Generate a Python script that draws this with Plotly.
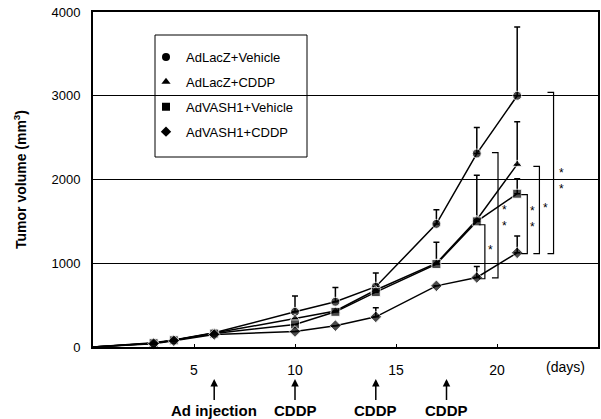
import plotly.graph_objects as go

days = [0, 3, 4, 6, 10, 12, 14, 17, 19, 21]

lacz_vehicle = [0, 50, 85, 170, 420, 540, 720, 1470, 2310, 3000]
lacz_vehicle_err = [0, 0, 0, 0, 190, 170, 165, 170, 310, 820]

lacz_cddp = [0, 45, 80, 165, 340, 430, 680, 1000, 1520, 2180]
lacz_cddp_err = [0, 0, 0, 0, 0, 0, 0, 250, 530, 510]

vash_vehicle = [0, 45, 80, 160, 270, 420, 655, 990, 1500, 1830]
vash_vehicle_err = [0, 0, 0, 0, 0, 0, 0, 0, 0, 180]

vash_cddp = [0, 40, 75, 150, 185, 255, 360, 730, 830, 1125]
vash_cddp_err = [0, 0, 0, 0, 0, 0, 110, 0, 130, 200]

series_names = ["AdLacZ+Vehicle", "AdLacZ+CDDP", "AdVASH1+Vehicle", "AdVASH1+CDDP"]
series_vals = [lacz_vehicle, lacz_cddp, vash_vehicle, vash_cddp]
series_errs = [lacz_vehicle_err, lacz_cddp_err, vash_vehicle_err, vash_cddp_err]
symbols = ["circle", "triangle-up", "square", "diamond"]

# significance brackets: (x, y_top, y_bottom, stars, star_x, star_y)
brackets = [
    (19.4, 1460, 815, "*", 19.7, 1160),
    (20.05, 2320, 826, "*<br>*", 20.35, 1545),
    (21.5, 1820, 1114, "*<br>*", 21.75, 1530),
    (22.1, 2156, 1114, "*", 22.4, 1665),
    (22.8, 3040, 1114, "*<br>*", 23.2, 1980),
]

# treatment arrows
events = [(6, "Ad injection"), (10, "CDDP"), (14, "CDDP"), (17.5, "CDDP")]

x_ticks = [5, 10, 15, 20]
y_ticks = [0, 1000, 2000, 3000, 4000]

FONT = "Arial, Liberation Sans, sans-serif"

fig = go.Figure()
for name, vals, errs, sym in zip(series_names, series_vals, series_errs, symbols):
    sizes = [0] + [9] * (len(vals) - 1)
    fig.add_trace(go.Scatter(
        x=days, y=vals, mode="lines+markers", name=name, showlegend=False,
        line=dict(color="black", width=1.5),
        marker=dict(symbol=sym, size=sizes, color="black"),
        error_y=dict(type="data", array=errs, arrayminus=[0] * len(errs),
                     symmetric=False, color="black", thickness=1.5, width=3),
        cliponaxis=False,
    ))
    fig.add_trace(go.Scatter(
        x=[None], y=[None], mode="markers", name=name, legendgroup=name,
        marker=dict(symbol=sym, size=8, color="black"),
    ))

shapes = []
tick = 0.3
for bx, ytop, ybot, stars, sx, sy in brackets:
    shapes.append(dict(type="path", xref="x", yref="y",
                       path=f"M {bx - tick} {ytop} L {bx} {ytop} L {bx} {ybot} L {bx - tick} {ybot}",
                       line=dict(color="black", width=1.2)))
    fig.add_annotation(x=sx, y=sy, xref="x", yref="y", text=stars, showarrow=False,
                       font=dict(family=FONT, size=12, color="black"))

# legend box
shapes.append(dict(type="rect", xref="paper", yref="paper",
                   x0=(155 - 93) / 505, x1=(307 - 93) / 505,
                   y0=(347 - 157) / 335, y1=(347 - 35) / 335,
                   line=dict(color="black", width=1), fillcolor="white", layer="below"))

for ex, label in events:
    fig.add_annotation(x=ex, y=-32 / 335, xref="x", yref="paper", text=f"<b>{label}</b>",
                       showarrow=True, ax=0, ay=31, arrowhead=2, arrowsize=1, arrowwidth=1.5,
                       arrowcolor="black", font=dict(family=FONT, size=15, color="black"))

fig.add_annotation(x=23.4, y=0, xref="x", yref="paper", yshift=-20, yanchor="middle",
                   text="(days)", showarrow=False,
                   font=dict(family=FONT, size=14, color="black"))

fig.update_layout(
    width=601, height=419,
    margin=dict(l=93, r=3, t=12, b=72, autoexpand=False),
    paper_bgcolor="white", plot_bgcolor="white",
    font=dict(family=FONT, size=13, color="black"),
    shapes=shapes,
    showlegend=True,
    legend=dict(x=(146 - 93) / 505, y=(347 - 42) / 335, xanchor="left", yanchor="top",
                bgcolor="rgba(0,0,0,0)", borderwidth=0, itemwidth=30,
                tracegroupgap=5, font=dict(family=FONT, size=13, color="black")),
    xaxis=dict(range=[0, 25], tickvals=x_ticks, ticks="inside", ticklen=3,
               tickcolor="black", showgrid=False, zeroline=False, automargin=False,
               showline=True, linecolor="black", linewidth=1.5, mirror=True,
               ticklabelstandoff=9, tickfont=dict(size=14)),
    yaxis=dict(range=[0, 4000], tickvals=y_ticks, ticks="", showgrid=True,
               gridcolor="black", gridwidth=1, zeroline=False, automargin=False,
               showline=True, linecolor="black", linewidth=2, mirror=True,
               ticklabelstandoff=8, tickfont=dict(size=13),
               title=dict(text="<b>Tumor volume (mm<sup>3</sup>)</b>", standoff=22,
                          font=dict(family=FONT, size=14))),
)

fig.write_html("out.html", config={"displayModeBar": False},
               post_script="document.body.style.margin='0';document.body.style.padding='0';")
